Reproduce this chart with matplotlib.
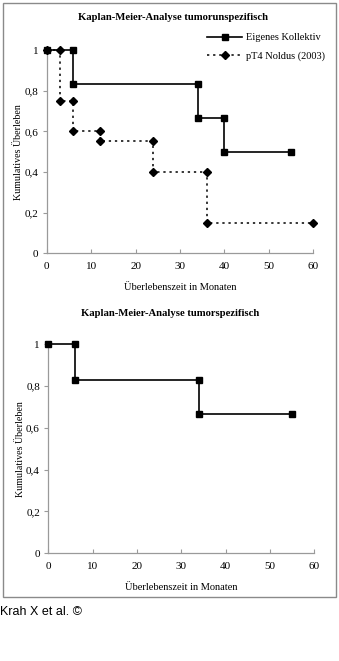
import matplotlib
matplotlib.use("Agg")
import matplotlib.pyplot as plt
from matplotlib.patches import Rectangle

# Data
own_t = [0, 6, 6, 34, 34, 40, 40, 55]
own_s = [1.0, 1.0, 0.833, 0.833, 0.667, 0.667, 0.5, 0.5]
noldus_t = [0, 3, 3, 6, 6, 12, 12, 24, 24, 36, 36, 60]
noldus_s = [1.0, 1.0, 0.75, 0.75, 0.6, 0.6, 0.55, 0.55, 0.4, 0.4, 0.15, 0.15]
spec_t = [0, 6, 6, 34, 34, 55]
spec_s = [1.0, 1.0, 0.83, 0.83, 0.667, 0.667]

xticks = [0, 10, 20, 30, 40, 50, 60]
yticks = [0, 0.2, 0.4, 0.6, 0.8, 1.0]
yticklabels = ["0", "0,2", "0,4", "0,6", "0,8", "1"]
title_top = "Kaplan-Meier-Analyse tumorunspezifisch"
title_bottom = "Kaplan-Meier-Analyse tumorspezifisch"
xlabel = "Überlebenszeit in Monaten"
ylabel = "Kumulatives Überleben"
label_own = "Eigenes Kollektiv"
label_noldus = "pT4 Noldus (2003)"
caption = "Krah X et al. ©"

W, H = 339, 661
fig = plt.figure(figsize=(W / 100, H / 100), dpi=100)
fig.patch.set_facecolor("white")
serif = ["Liberation Serif", "DejaVu Serif"]

def fx(px):
    return px / W

def fy(py):
    return 1 - py / H

def style(ax):
    ax.set_xlim(0, 60)
    ax.set_ylim(0, 1)
    for s in ["top", "right"]:
        ax.spines[s].set_visible(False)
    for s in ["left", "bottom"]:
        ax.spines[s].set_color("#9a9a9a")
        ax.spines[s].set_linewidth(0.9)
    ax.set_xticks(xticks)
    ax.set_yticks(yticks)
    ax.set_yticklabels(yticklabels)
    ax.tick_params(axis="x", direction="in", length=3, color="#9a9a9a", pad=6, labelsize=8)
    ax.tick_params(axis="y", direction="out", length=3, color="#9a9a9a", pad=3, labelsize=8)
    for lab in ax.get_xticklabels() + ax.get_yticklabels():
        lab.set_family(serif)
    ax.set_xlabel(xlabel, family=serif, fontsize=7.5, labelpad=9)
    ax.set_ylabel(ylabel, family=serif, fontsize=7.2, labelpad=1)
    ax.set_facecolor("none")

# Top axes
ax1 = fig.add_axes([fx(46.7), fy(253.3), fx(313.3 - 46.7), (253.3 - 50) / H])
style(ax1)
l2, = ax1.plot(noldus_t, noldus_s, color="black", linestyle=(0, (1.5, 2.5)), linewidth=1.1,
               marker="D", markersize=3.8, clip_on=False, label=label_noldus, zorder=3)
l1, = ax1.plot(own_t, own_s, color="black", linestyle="-", linewidth=1.2,
               marker="s", markersize=4.8, clip_on=False, label=label_own, zorder=4)
fig.text(fx(173), fy(17), title_top, ha="center", va="center", family=serif,
         fontsize=7.7, fontweight="bold")
fig.legend([l1, l2], [label_own, label_noldus], loc="upper left",
           bbox_to_anchor=(fx(207), fy(33)), frameon=False, prop={"family": serif, "size": 7.5},
           handlelength=3.4, handletextpad=0.3, labelspacing=0.9, borderpad=0, borderaxespad=0)

# Bottom axes
ax2 = fig.add_axes([fx(48.3), fy(553.3), fx(314.3 - 48.3), (553.3 - 344.3) / H])
style(ax2)
ax2.plot(spec_t, spec_s, color="black", linestyle="-", linewidth=1.2,
         marker="s", markersize=4.8, clip_on=False, zorder=4)
fig.text(fx(170), fy(313), title_bottom, ha="center", va="center", family=serif,
         fontsize=7.7, fontweight="bold")

# Outer frame
fig.patches.append(Rectangle((fx(2.5), fy(597)), fx(336 - 2.5), (597 - 2.5) / H,
                             transform=fig.transFigure, fill=False,
                             edgecolor="#8a8a8a", linewidth=1.0))

fig.text(fx(0), fy(612), caption, ha="left", va="center",
         family=["Liberation Sans", "DejaVu Sans"], fontsize=9)

fig.savefig("out.png", dpi=100, facecolor="white")
